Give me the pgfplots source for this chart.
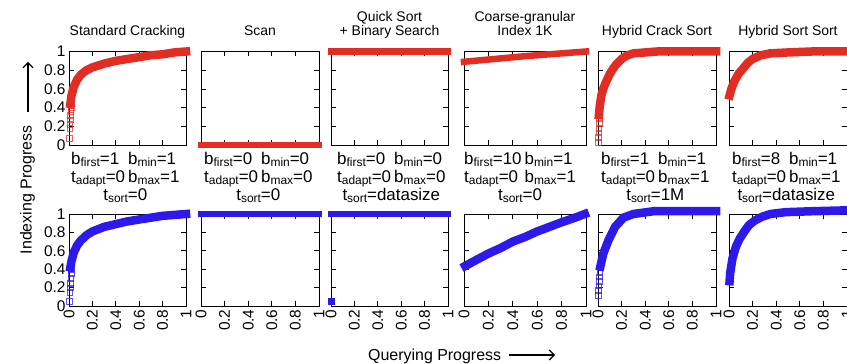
\documentclass[border=0pt]{standalone}
\usepackage{pgfplots}
\pgfplotsset{compat=1.18}
\usepackage{fontspec}
\setmainfont{Liberation Sans}
\usetikzlibrary{arrows.meta}
\definecolor{cred}{RGB}{225,45,35}
\definecolor{cblue}{RGB}{45,25,235}
\newcommand\sub[1]{\raisebox{-1.5bp}{\fontsize{12}{12}\selectfont #1}}
\newcommand\ticksize{\fontsize{15.5}{16}\selectfont}
\newcommand\params[3]{\fontsize{17}{18}\selectfont\begin{tabular}[t]{@{}l@{\hspace{3bp}}l@{}}b\sub{first}=#1 & b\sub{min}=#2\\ t\sub{adapt}=0 & b\sub{max}=#2\\ \multicolumn{2}{@{}c@{}}{t\sub{sort}=#3}\end{tabular}}
\pgfplotsset{
  panel/.style={scale only axis, anchor=south west, xmin=0, xmax=1, ymin=0, ymax=1,
    xtick={0,0.2,0.4,0.6,0.8,1}, ytick={0,0.2,0.4,0.6,0.8,1},
    tick align=inside, major tick length=5bp, clip=false,
    axis line style={line width=0.9bp, black},
    tick style={black, line width=0.7bp},
    /pgf/number format/assume math mode=true,
    ticklabel style={font=\ticksize},
    xticklabel style={rotate=90, anchor=east}},
  toprow/.style={height=93.5bp, xticklabels={}},
  botrow/.style={height=92bp},
  noy/.style={yticklabels={}},
  band/.style={line width=8.5bp, line cap=rect, line join=round, no marks},
  flat/.style={line width=6.5bp, line cap=rect, no marks},
  sq/.style={only marks, mark=square, mark size=2.8bp, mark options={line width=0.5bp, opacity=0.75}},
}
\begin{document}
\begin{tikzpicture}
\useasboundingbox (0bp,0bp) rectangle (847bp,364bp);
% ---------------- top row ----------------
\begin{axis}[panel, toprow, at={(69bp,219bp)}, width=117bp]
\addplot[band, cred] coordinates {(0.012,0.44) (0.02,0.52) (0.04,0.62) (0.07,0.7) (0.1,0.75) (0.15,0.8) (0.2,0.83) (0.3,0.87) (0.4,0.9) (0.5,0.92) (0.6,0.94) (0.7,0.96) (0.8,0.97) (0.9,0.99) (1.0,1.0)};
\addplot[sq, cred] coordinates {(0.0,0.07) (0.005,0.18) (0.008,0.22) (0.01,0.27) (0.012,0.32) (0.015,0.36) (0.018,0.4) (0.02,0.44)};
\end{axis}
\begin{axis}[panel, toprow, noy, at={(201bp,219bp)}, width=118bp]
\addplot[flat, cred] coordinates {(0,0) (0.5,0) (1,0)};
\end{axis}
\begin{axis}[panel, toprow, noy, at={(331bp,219bp)}, width=117bp]
\addplot[flat, cred] coordinates {(0,1) (0.5,1) (1,1)};
\end{axis}
\begin{axis}[panel, toprow, noy, at={(464bp,219bp)}, width=122bp]
\addplot[flat, cred] coordinates {(0,0.89) (0.25,0.92) (0.5,0.95) (0.75,0.975) (1,1.0)};
\end{axis}
\begin{axis}[panel, toprow, noy, at={(598bp,219bp)}, width=118bp]
\addplot[band, cred] coordinates {(0.008,0.32) (0.015,0.42) (0.03,0.54) (0.05,0.62) (0.07,0.68) (0.1,0.76) (0.13,0.82) (0.16,0.87) (0.2,0.92) (0.25,0.96) (0.3,0.98) (0.4,0.99) (0.5,1.0) (1,1.0)};
\addplot[sq, cred] coordinates {(0,0.03) (0.003,0.08) (0.005,0.13) (0.007,0.18) (0.01,0.23) (0.012,0.28) (0.015,0.33)};
\end{axis}
\begin{axis}[panel, toprow, noy, at={(729bp,219bp)}, width=118bp]
\addplot[band, cred] coordinates {(0.005,0.53) (0.02,0.6) (0.045,0.68) (0.08,0.76) (0.12,0.82) (0.16,0.88) (0.2,0.92) (0.27,0.96) (0.35,0.98) (0.5,0.99) (0.7,1.0) (1,1.0)};
\end{axis}
% ---------------- bottom row ----------------
\begin{axis}[panel, botrow, at={(69bp,58bp)}, width=117bp]
\addplot[band, cblue] coordinates {(0.012,0.42) (0.02,0.48) (0.04,0.58) (0.07,0.66) (0.1,0.71) (0.15,0.77) (0.2,0.81) (0.3,0.86) (0.4,0.89) (0.5,0.92) (0.6,0.94) (0.7,0.96) (0.8,0.98) (0.9,0.99) (1,1.0)};
\addplot[sq, cblue] coordinates {(0,0.05) (0.005,0.15) (0.01,0.2) (0.012,0.25) (0.015,0.3) (0.02,0.35) (0.02,0.4)};
\end{axis}
\begin{axis}[panel, botrow, noy, at={(201bp,58bp)}, width=118bp]
\addplot[flat, cblue] coordinates {(0,1) (0.5,1) (1,1)};
\end{axis}
\begin{axis}[panel, botrow, noy, at={(331bp,58bp)}, width=117bp]
\addplot[flat, cblue] coordinates {(0,1) (0.5,1) (1,1)};
\addplot[only marks, mark=square*, mark size=3bp, cblue] coordinates {(0,0.05)};
\end{axis}
\begin{axis}[panel, botrow, noy, at={(464bp,58bp)}, width=122bp]
\addplot[band, cblue] coordinates {(0.01,0.435) (0.1,0.5) (0.2,0.57) (0.3,0.63) (0.4,0.7) (0.5,0.75) (0.6,0.81) (0.7,0.86) (0.8,0.91) (0.9,0.955) (0.99,1.0)};
\end{axis}
\begin{axis}[panel, botrow, noy, at={(598bp,58bp)}, width=118bp]
\addplot[band, cblue] coordinates {(0.02,0.43) (0.045,0.57) (0.09,0.72) (0.145,0.86) (0.215,0.96) (0.3,1.0) (0.47,1.03) (1,1.03)};
\addplot[sq, cblue] coordinates {(0,0.12) (0.003,0.17) (0.006,0.22) (0.01,0.27) (0.013,0.32) (0.016,0.37) (0.02,0.42)};
\end{axis}
\begin{axis}[panel, botrow, noy, at={(729bp,58bp)}, width=118bp]
\addplot[band, cblue] coordinates {(0.005,0.27) (0.01,0.36) (0.03,0.52) (0.06,0.65) (0.09,0.73) (0.13,0.81) (0.17,0.88) (0.22,0.93) (0.28,0.97) (0.35,1.0) (0.48,1.02) (0.7,1.03) (1,1.04)};
\end{axis}
% ---------------- titles ----------------
\begin{scope}[every node/.style={inner sep=0pt, anchor=base, font=\fontsize{14}{14}\selectfont}]
\node at (127.5bp,328bp) {Standard Cracking};
\node at (260bp,328bp) {Scan};
\node at (389.5bp,342bp) {Quick Sort};
\node at (389.5bp,328.5bp) {+ Binary Search};
\node at (525bp,342bp) {Coarse-granular};
\node at (525bp,328.5bp) {Index 1K};
\node at (657bp,328bp) {Hybrid Crack Sort};
\node at (788bp,328bp) {Hybrid Sort Sort};
\end{scope}
% ---------------- parameters ----------------
\begin{scope}[every node/.style={inner sep=0pt, anchor=base west}]
\node at (71bp,199bp) {\params{1}{1}{0}};
\node at (204bp,199bp) {\params{0}{0}{0}};
\node at (337bp,199bp) {\params{0}{0}{datasize}};
\node at (464bp,199bp) {\params{10}{1}{0}};
\node at (601bp,199bp) {\params{1}{1}{1M}};
\node at (732bp,199bp) {\params{8}{1}{datasize}};
\end{scope}
% ---------------- axis labels ----------------
\node[rotate=90, inner sep=0pt, font=\fontsize{16}{16}\selectfont] at (27.5bp,174bp) {Indexing Progress};
\draw[-{Straight Barb[length=5bp,width=10bp]}, line width=1.2bp] (28bp,252bp) -- (28bp,302bp);
\node[inner sep=0pt, anchor=base west, font=\fontsize{16}{16}\selectfont] at (368bp,4bp) {Querying Progress};
\draw[-{Straight Barb[length=5bp,width=10bp]}, line width=1.2bp] (509bp,9bp) -- (555bp,9bp);
\end{tikzpicture}
\end{document}
